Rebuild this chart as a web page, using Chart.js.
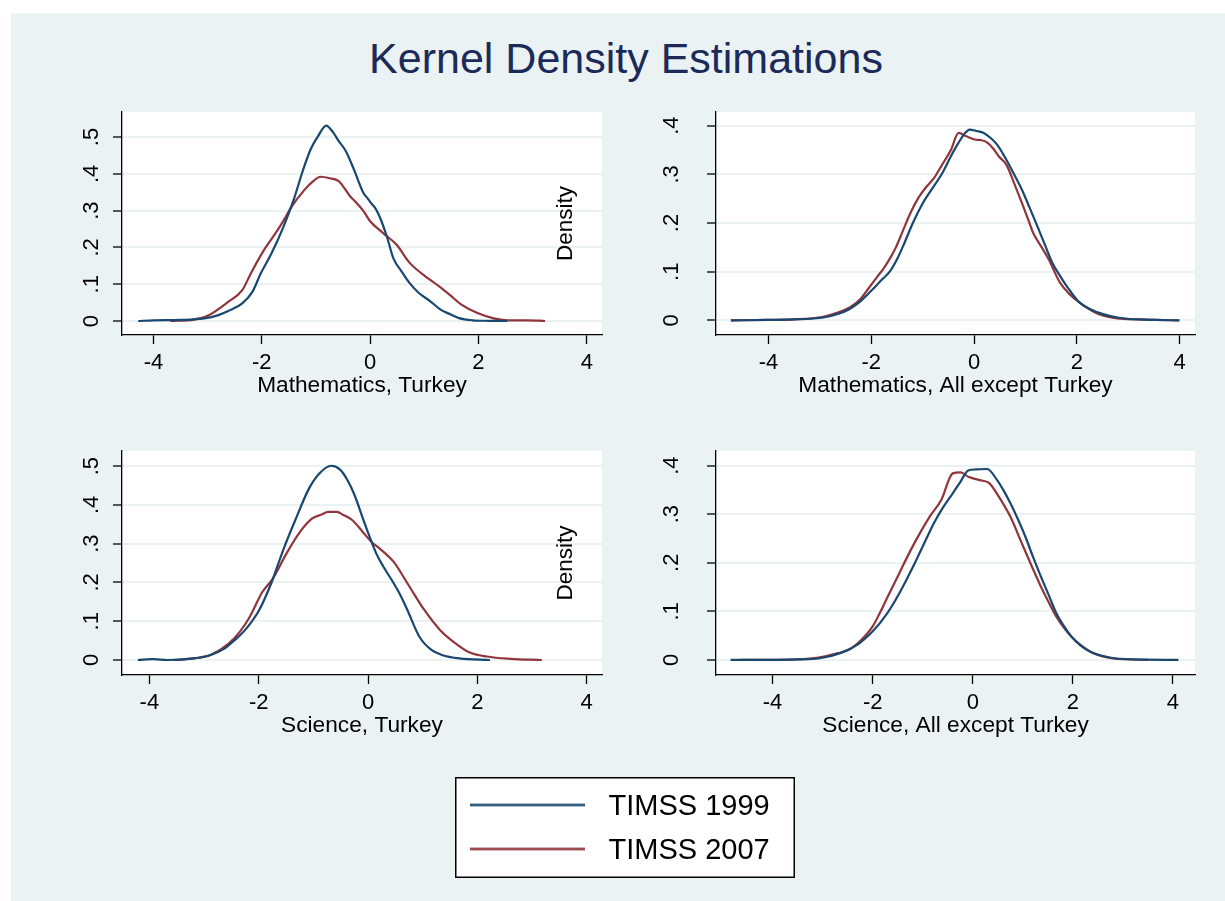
<!DOCTYPE html>
<html><head><meta charset="utf-8">
<script src="https://cdn.jsdelivr.net/npm/chart.js@4.4.1/dist/chart.umd.min.js"></script>
<style>
html,body{margin:0;padding:0;background:#fff;width:1225px;height:901px;overflow:hidden;position:relative;}
#bg{position:absolute;left:11px;top:13px;width:1214px;height:888px;background:#EAF2F3;}
#title{position:absolute;left:126px;width:1000px;top:37px;font:43px/43px "Liberation Sans",Arial,sans-serif;color:#1C2A5A;text-align:center;white-space:nowrap;}
canvas{position:absolute;}
</style></head><body>
<div id="bg"></div>
<div id="title">Kernel Density Estimations</div>
<canvas id="c1"></canvas>
<canvas id="c2"></canvas>
<canvas id="c3"></canvas>
<canvas id="c4"></canvas>
<canvas id="leg"></canvas>
<script>
// ---------- data ----------
const seriesLabels = ['TIMSS 1999', 'TIMSS 2007'];
const panelTitles = ['Mathematics, Turkey', 'Mathematics, All except Turkey', 'Science, Turkey', 'Science, All except Turkey'];
const yAxisTitle = 'Density';
const xTickValues = [-4, -2, 0, 2, 4];
const xTickLabels = ['-4', '-2', '0', '2', '4'];
const yTickValuesTurkey = [0, 0.1, 0.2, 0.3, 0.4, 0.5];
const yTickLabelsTurkey = ['0', '.1', '.2', '.3', '.4', '.5'];
const yTickValuesAll = [0, 0.1, 0.2, 0.3, 0.4];
const yTickLabelsAll = ['0', '.1', '.2', '.3', '.4'];

// Mathematics, Turkey
const mathTurkey1999X = [-4.28, -4.0, -3.5, -3.06, -2.8, -2.62, -2.36, -2.17, -2.02, -1.82, -1.60, -1.41, -1.25, -1.10, -0.97, -0.81, -0.68, -0.58, -0.45, -0.30, -0.12, -0.05, 0.02, 0.09, 0.18, 0.31, 0.43, 0.58, 0.73, 0.90, 1.10, 1.30, 1.47, 1.64, 1.89, 2.20, 2.53];
const mathTurkey1999Y = [0.000, 0.002, 0.003, 0.007, 0.016, 0.027, 0.048, 0.080, 0.129, 0.184, 0.256, 0.330, 0.405, 0.466, 0.500, 0.531, 0.512, 0.489, 0.462, 0.412, 0.347, 0.334, 0.320, 0.308, 0.282, 0.229, 0.170, 0.135, 0.103, 0.076, 0.055, 0.031, 0.019, 0.008, 0.002, 0.0005, 0.000];
const mathTurkey2007X = [-3.69, -3.25, -3.0, -2.62, -2.36, -2.20, -1.98, -1.73, -1.59, -1.47, -1.22, -1.05, -0.92, -0.75, -0.58, -0.46, -0.37, -0.27, -0.12, 0.0, 0.24, 0.49, 0.73, 1.07, 1.25, 1.47, 1.70, 1.96, 2.28, 2.53, 2.91, 3.23];
const mathTurkey2007Y = [0.000, 0.004, 0.014, 0.052, 0.084, 0.130, 0.188, 0.242, 0.275, 0.306, 0.355, 0.380, 0.392, 0.388, 0.380, 0.358, 0.339, 0.324, 0.298, 0.271, 0.239, 0.207, 0.158, 0.116, 0.097, 0.071, 0.043, 0.023, 0.007, 0.002, 0.002, 0.000];

// Mathematics, All except Turkey
const mathAll1999X = [-4.73, -4.0, -3.5, -2.93, -2.65, -2.41, -2.2, -1.97, -1.80, -1.64, -1.50, -1.35, -1.19, -1.00, -0.85, -0.63, -0.45, -0.30, -0.18, -0.08, 0.05, 0.19, 0.33, 0.45, 0.63, 0.78, 0.93, 1.08, 1.23, 1.38, 1.52, 1.67, 1.82, 2.05, 2.42, 2.79, 3.2, 3.53, 4.0];
const mathAll1999Y = [0, 0.001, 0.002, 0.006, 0.013, 0.024, 0.040, 0.064, 0.083, 0.100, 0.125, 0.160, 0.200, 0.240, 0.265, 0.300, 0.337, 0.365, 0.384, 0.392, 0.389, 0.385, 0.374, 0.361, 0.330, 0.300, 0.269, 0.232, 0.194, 0.155, 0.119, 0.092, 0.068, 0.037, 0.016, 0.006, 0.002, 0.001, 0];
const mathAll2007X = [-4.73, -4.0, -3.5, -2.93, -2.65, -2.41, -2.2, -2.05, -1.88, -1.75, -1.62, -1.52, -1.38, -1.23, -1.08, -0.93, -0.78, -0.63, -0.45, -0.30, -0.15, 0.04, 0.15, 0.26, 0.38, 0.48, 0.63, 0.78, 0.93, 1.08, 1.15, 1.30, 1.45, 1.67, 1.85, 2.05, 2.42, 2.79, 3.2, 3.53, 3.98];
const mathAll2007Y = [0, 0.001, 0.002, 0.0075, 0.016, 0.027, 0.045, 0.066, 0.090, 0.108, 0.130, 0.150, 0.185, 0.222, 0.252, 0.274, 0.292, 0.318, 0.350, 0.385, 0.378, 0.371, 0.370, 0.365, 0.352, 0.337, 0.320, 0.282, 0.242, 0.200, 0.180, 0.153, 0.126, 0.078, 0.055, 0.037, 0.013, 0.004, 0.002, 0.001, 0];

// Science, Turkey
const sciTurkey1999X = [-4.21, -3.92, -3.67, -3.19, -2.88, -2.62, -2.45, -2.25, -1.99, -1.77, -1.55, -1.33, -1.08, -0.89, -0.67, -0.51, -0.38, -0.26, -0.04, 0.15, 0.28, 0.47, 0.60, 0.72, 0.94, 1.16, 1.35, 1.67, 2.23];
const sciTurkey1999Y = [0.0, 0.002, 0.0, 0.004, 0.013, 0.030, 0.050, 0.077, 0.129, 0.198, 0.284, 0.361, 0.442, 0.481, 0.501, 0.491, 0.465, 0.430, 0.344, 0.275, 0.241, 0.198, 0.165, 0.129, 0.060, 0.026, 0.013, 0.004, 0.0];
const sciTurkey2007X = [-3.54, -3.19, -2.88, -2.56, -2.35, -2.18, -1.93, -1.74, -1.49, -1.24, -1.02, -0.85, -0.73, -0.57, -0.45, -0.29, -0.10, 0.06, 0.21, 0.47, 0.72, 1.03, 1.32, 1.60, 1.85, 2.17, 2.61, 3.18];
const sciTurkey2007Y = [0.0, 0.004, 0.013, 0.041, 0.072, 0.107, 0.176, 0.210, 0.275, 0.331, 0.365, 0.375, 0.382, 0.382, 0.374, 0.361, 0.331, 0.305, 0.288, 0.253, 0.198, 0.129, 0.077, 0.043, 0.020, 0.009, 0.003, 0.0];

// Science, All except Turkey
const sciAll1999X = [-4.84, -4.0, -3.5, -3.08, -2.62, -2.31, -1.97, -1.75, -1.54, -1.35, -1.16, -0.97, -0.78, -0.60, -0.40, -0.25, -0.09, 0.06, 0.29, 0.48, 0.62, 0.75, 0.90, 1.05, 1.20, 1.36, 1.52, 1.67, 1.82, 1.97, 2.15, 2.35, 2.74, 3.27, 4.11];
const sciAll1999Y = [0.0, 0.0, 0.001, 0.003, 0.015, 0.031, 0.062, 0.090, 0.124, 0.160, 0.199, 0.240, 0.281, 0.313, 0.343, 0.366, 0.390, 0.392, 0.393, 0.371, 0.348, 0.323, 0.290, 0.254, 0.213, 0.172, 0.133, 0.096, 0.070, 0.048, 0.030, 0.017, 0.005, 0.001, 0.0];
const sciAll2007X = [-4.64, -4.0, -3.5, -3.08, -2.69, -2.46, -2.23, -2.0, -1.85, -1.70, -1.47, -1.24, -1.05, -0.86, -0.63, -0.40, -0.24, -0.09, 0.14, 0.33, 0.52, 0.75, 0.98, 1.17, 1.36, 1.52, 1.67, 1.97, 2.35, 2.81, 3.50];
const sciAll2007Y = [0.0, 0.0, 0.001, 0.005, 0.014, 0.022, 0.041, 0.069, 0.098, 0.130, 0.178, 0.226, 0.262, 0.295, 0.329, 0.384, 0.386, 0.377, 0.370, 0.364, 0.336, 0.295, 0.240, 0.195, 0.151, 0.118, 0.089, 0.048, 0.017, 0.003, 0.0];

// ---------- styling ----------
const FAMILY = '"Liberation Sans", Arial, Helvetica, sans-serif';
const COLORS = ['#1A476F', '#90353B'];
Chart.defaults.font.family = FAMILY;
Chart.defaults.color = '#000';

const plotBg = {
  id: 'plotBg',
  beforeDraw(chart) {
    const a = chart.chartArea, ctx = chart.ctx;
    ctx.save(); ctx.fillStyle = '#fff';
    ctx.fillRect(a.left, a.top, a.right - a.left, a.bottom - a.top);
    ctx.restore();
  }
};
const densityLabel = {
  id: 'densityLabel',
  afterDraw(chart, args, opts) {
    if (!opts || !opts.show) return;
    const a = chart.chartArea, ctx = chart.ctx;
    ctx.save();
    ctx.translate(a.right - 36, (a.top + a.bottom) / 2);
    ctx.rotate(-Math.PI / 2);
    ctx.font = '22.5px ' + FAMILY;
    ctx.fillStyle = '#000';
    ctx.textAlign = 'center'; ctx.textBaseline = 'middle';
    ctx.fillText(yAxisTitle, 0, 0);
    ctx.restore();
  }
};

function pts(xs, ys) { return xs.map((x, i) => ({x: x, y: ys[i]})); }

function makePanel(id, box, xr, yr, yVals, yLabs, s1999, s2007, title, yPad, showDensity) {
  const Ya = box.ya, Xa = 64, padT = 10, padR = 20;
  const cv = document.getElementById(id);
  const W = Ya + (box.R - box.L) + padR, H = padT + (box.B - box.T) + Xa;
  cv.width = W; cv.height = H;
  cv.style.width = W + 'px'; cv.style.height = H + 'px';
  cv.style.left = (box.L - Ya) + 'px'; cv.style.top = (box.T - padT) + 'px';
  const mk = (s, i) => ({
    label: seriesLabels[i], data: pts(s[0], s[1]), borderColor: COLORS[i],
    borderWidth: 2.2, pointRadius: 0, fill: false, cubicInterpolationMode: 'monotone'
  });
  new Chart(cv, {
    type: 'line',
    data: {datasets: [mk(s1999, 0), mk(s2007, 1)]},
    options: {
      responsive: false, animation: false, events: [],
      layout: {padding: {top: padT, right: padR, left: 0, bottom: 0}},
      plugins: {legend: {display: false}, tooltip: {enabled: false}, densityLabel: {show: showDensity}},
      scales: {
        x: {
          type: 'linear', min: xr[0], max: xr[1],
          afterBuildTicks: sc => { sc.ticks = xTickValues.map(v => ({value: v})); },
          afterFit: sc => { sc.height = Xa; sc.paddingLeft = 0; sc.paddingRight = 0; },
          grid: {drawOnChartArea: false, drawTicks: true, tickLength: 9, tickColor: '#000', tickWidth: 1.3},
          border: {display: true, color: '#000', width: 1.3},
          ticks: {font: {size: 22}, color: '#000', padding: 6, minRotation: 0, maxRotation: 0, autoSkip: false,
                  callback: v => xTickLabels[xTickValues.indexOf(v)]},
          title: {display: true, text: title, font: {size: 22.7}, color: '#000', padding: 0}
        },
        y: {
          type: 'linear', min: yr[0], max: yr[1],
          afterBuildTicks: sc => { sc.ticks = yVals.map(v => ({value: v})); },
          afterFit: sc => { sc.width = Ya; sc.paddingTop = 0; sc.paddingBottom = 0; },
          grid: {color: '#EAF2F3', lineWidth: 2, drawTicks: true, tickLength: 9, tickColor: '#000', tickWidth: 1.3},
          border: {display: true, color: '#000', width: 1.3},
          ticks: {font: {size: 22}, color: '#000', padding: yPad, minRotation: 90, maxRotation: 90, crossAlign: 'center', autoSkip: false,
                  callback: (v, i) => yLabs[yVals.indexOf(v)]}
        }
      }
    },
    plugins: [plotBg, densityLabel]
  });
}

makePanel('c1', {L: 122, T: 112, R: 602, B: 335, ya: 52}, [-4.58, 4.28], [-0.038, 0.568],
  yTickValuesTurkey, yTickLabelsTurkey, [mathTurkey1999X, mathTurkey1999Y], [mathTurkey2007X, mathTurkey2007Y], panelTitles[0], 12, true);
makePanel('c2', {L: 716, T: 112, R: 1195, B: 335, ya: 72}, [-5.02, 4.30], [-0.030, 0.428],
  yTickValuesAll, yTickLabelsAll, [mathAll1999X, mathAll1999Y], [mathAll2007X, mathAll2007Y], panelTitles[1], 26, false);
makePanel('c3', {L: 122, T: 451, R: 602, B: 675, ya: 52}, [-4.50, 4.28], [-0.0387, 0.539],
  yTickValuesTurkey, yTickLabelsTurkey, [sciTurkey1999X, sciTurkey1999Y], [sciTurkey2007X, sciTurkey2007Y], panelTitles[2], 12, true);
makePanel('c4', {L: 716, T: 451, R: 1195, B: 675, ya: 72}, [-5.13, 4.44], [-0.031, 0.430],
  yTickValuesAll, yTickLabelsAll, [sciAll1999X, sciAll1999Y], [sciAll2007X, sciAll2007Y], panelTitles[3], 26, false);

// ---------- legend ----------
function lineSymbol(color) {
  const c = document.createElement('canvas');
  c.width = 124; c.height = 10;
  const g = c.getContext('2d');
  g.strokeStyle = color; g.lineWidth = 2.6;
  g.beginPath(); g.moveTo(0, 3.5); g.lineTo(115, 3.5); g.stroke();
  return c;
}
const legBox = {
  id: 'legBox',
  beforeDraw(chart) {
    const ctx = chart.ctx, w = chart.width, h = chart.height;
    ctx.save();
    ctx.fillStyle = '#fff'; ctx.fillRect(0, 0, w, h);
    ctx.strokeStyle = '#000'; ctx.lineWidth = 1.5;
    ctx.strokeRect(0.75, 0.75, w - 1.5, h - 1.5);
    ctx.restore();
  }
};
(function () {
  const cv = document.getElementById('leg');
  cv.width = 340; cv.height = 101;
  cv.style.width = '340px'; cv.style.height = '101px';
  cv.style.left = '455px'; cv.style.top = '777px';
  new Chart(cv, {
    type: 'line',
    data: {datasets: seriesLabels.map((l, i) => ({label: l, data: [], borderColor: COLORS[i]}))},
    options: {
      responsive: false, animation: false, events: [],
      layout: {padding: 0},
      scales: {x: {display: false}, y: {display: false}},
      plugins: {
        tooltip: {enabled: false},
        legend: {
          display: true, position: 'top', align: 'start', maxHeight: 101,
          labels: {
            font: {size: 29}, color: '#000', padding: 15, usePointStyle: true, pointStyleWidth: 124,
            generateLabels: chart => chart.data.datasets.map((ds, i) => ({
              text: ds.label, fillStyle: ds.borderColor, strokeStyle: ds.borderColor, lineWidth: 0,
              pointStyle: lineSymbol(ds.borderColor), hidden: false, datasetIndex: i, fontColor: '#000'
            }))
          }
        }
      }
    },
    plugins: [legBox]
  });
})();
</script>
</body></html>
